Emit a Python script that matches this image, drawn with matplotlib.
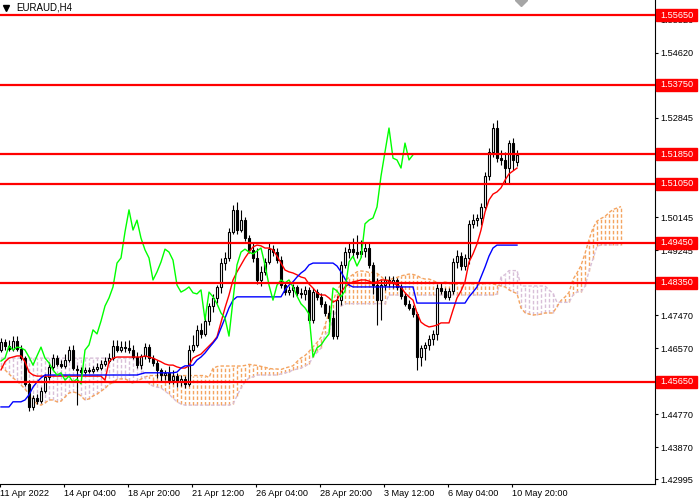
import numpy as np
import matplotlib
matplotlib.use("Agg")
import matplotlib.pyplot as plt
from matplotlib.patches import Rectangle

plt.rcParams['font.family'] = ['Liberation Sans', 'DejaVu Sans']

symbol = "EURAUD,H4"

time_labels = ["11 Apr 2022", "14 Apr 04:00", "18 Apr 20:00", "21 Apr 12:00",
               "26 Apr 04:00", "28 Apr 20:00", "3 May 12:00", "6 May 04:00",
               "10 May 20:00"]
time_label_bars = [0, 16, 32, 48, 64, 80, 96, 112, 128]

levels = [1.5565, 1.5375, 1.5185, 1.5105, 1.4945, 1.4835, 1.4565]
level_labels = ["1.55650", "1.53750", "1.51850", "1.51050", "1.49450", "1.48350", "1.45650"]

price_ticks = [1.55520, 1.54620, 1.52845, 1.51945, 1.50145,
               1.49245, 1.47470, 1.46570, 1.44770, 1.43870, 1.42995]

open_ = [
    1.4652, 1.4674, 1.4663, 1.4655, 1.4677, 1.4655, 1.4630, 1.4560, 1.4497, 1.4521,
    1.4513, 1.4540, 1.4579, 1.4606, 1.4630, 1.4614, 1.4609, 1.4625, 1.4652, 1.4600,
    1.4598, 1.4592, 1.4598, 1.4595, 1.4600, 1.4603, 1.4614, 1.4622, 1.4630, 1.4663,
    1.4652, 1.4660, 1.4658, 1.4652, 1.4633, 1.4611, 1.4636, 1.4660, 1.4630, 1.4617,
    1.4598, 1.4584, 1.4590, 1.4570, 1.4581, 1.4565, 1.4573, 1.4560, 1.4652, 1.4666,
    1.4707, 1.4696, 1.4731, 1.4772, 1.4794, 1.4824, 1.4889, 1.4903, 1.4974, 1.5034,
    1.4979, 1.5006, 1.4957, 1.4925, 1.4903, 1.4843, 1.4865, 1.4892, 1.4927, 1.4919,
    1.4897, 1.4829, 1.4810, 1.4816, 1.4824, 1.4808, 1.4805, 1.4816, 1.4734, 1.4810,
    1.4797, 1.4778, 1.4753, 1.4739, 1.4690, 1.4788, 1.4884, 1.4919, 1.4927, 1.4919,
    1.4914, 1.4922, 1.4930, 1.4884, 1.4829, 1.4788, 1.4829, 1.4843, 1.4835, 1.4843,
    1.4824, 1.4799, 1.4778, 1.4767, 1.4750, 1.4633, 1.4658, 1.4666, 1.4682, 1.4696,
    1.4821, 1.4813, 1.4797, 1.4813, 1.4892, 1.4908, 1.4881, 1.4903, 1.4996, 1.5006,
    1.5012, 1.5042, 1.5126, 1.5192, 1.5257, 1.5175, 1.5170, 1.5148, 1.5216, 1.5164,
]
high = [
    1.4685, 1.4682, 1.4679, 1.4690, 1.4690, 1.4666, 1.4636, 1.4570, 1.4530, 1.4532,
    1.4551, 1.4587, 1.4620, 1.4641, 1.4639, 1.4625, 1.4641, 1.4663, 1.4666, 1.4611,
    1.4606, 1.4606, 1.4606, 1.4609, 1.4617, 1.4625, 1.4633, 1.4644, 1.4679, 1.4679,
    1.4677, 1.4677, 1.4679, 1.4666, 1.4647, 1.4641, 1.4671, 1.4668, 1.4639, 1.4625,
    1.4603, 1.4598, 1.4609, 1.4598, 1.4590, 1.4584, 1.4581, 1.4666, 1.4693, 1.4720,
    1.4726, 1.4742, 1.4780, 1.4805, 1.4829, 1.4903, 1.4919, 1.4985, 1.5047, 1.5055,
    1.5034, 1.5015, 1.4966, 1.4944, 1.4930, 1.4881, 1.4903, 1.4944, 1.4938, 1.4930,
    1.4908, 1.4838, 1.4827, 1.4832, 1.4829, 1.4821, 1.4827, 1.4824, 1.4821, 1.4818,
    1.4808, 1.4786, 1.4775, 1.4761, 1.4799, 1.4895, 1.4933, 1.4944, 1.4957, 1.4966,
    1.4952, 1.4944, 1.4946, 1.4892, 1.4848, 1.4843, 1.4854, 1.4854, 1.4854, 1.4848,
    1.4832, 1.4808, 1.4788, 1.4775, 1.4756, 1.4666, 1.4674, 1.4693, 1.4707, 1.4832,
    1.4838, 1.4821, 1.4821, 1.4903, 1.4925, 1.4919, 1.4914, 1.5006, 1.5023, 1.5023,
    1.5053, 1.5137, 1.5203, 1.5271, 1.5279, 1.5197, 1.5192, 1.5224, 1.5230, 1.5197,
]
low = [
    1.4647, 1.4652, 1.4649, 1.4649, 1.4649, 1.4625, 1.4554, 1.4486, 1.4489, 1.4505,
    1.4508, 1.4535, 1.4570, 1.4600, 1.4609, 1.4603, 1.4603, 1.4620, 1.4598, 1.4502,
    1.4584, 1.4587, 1.4590, 1.4590, 1.4595, 1.4598, 1.4609, 1.4617, 1.4625, 1.4647,
    1.4647, 1.4647, 1.4644, 1.4628, 1.4603, 1.4600, 1.4628, 1.4620, 1.4609, 1.4576,
    1.4568, 1.4570, 1.4560, 1.4560, 1.4551, 1.4554, 1.4549, 1.4554, 1.4647, 1.4660,
    1.4685, 1.4690, 1.4720, 1.4756, 1.4780, 1.4808, 1.4870, 1.4895, 1.4968, 1.4968,
    1.4974, 1.4949, 1.4917, 1.4892, 1.4832, 1.4827, 1.4857, 1.4886, 1.4908, 1.4889,
    1.4821, 1.4802, 1.4802, 1.4797, 1.4799, 1.4794, 1.4788, 1.4726, 1.4726, 1.4788,
    1.4769, 1.4745, 1.4728, 1.4682, 1.4682, 1.4775, 1.4876, 1.4903, 1.4903, 1.4903,
    1.4906, 1.4906, 1.4876, 1.4805, 1.4720, 1.4734, 1.4816, 1.4824, 1.4821, 1.4816,
    1.4791, 1.4772, 1.4761, 1.4742, 1.4598, 1.4609, 1.4625, 1.4652, 1.4666, 1.4679,
    1.4805, 1.4791, 1.4788, 1.4805, 1.4876, 1.4870, 1.4870, 1.4886, 1.4985, 1.4990,
    1.4993, 1.5034, 1.5115, 1.5178, 1.5164, 1.5156, 1.5107, 1.5107, 1.5143, 1.5154,
]
close = [
    1.4674, 1.4663, 1.4655, 1.4677, 1.4655, 1.4630, 1.4560, 1.4497, 1.4521, 1.4513,
    1.4540, 1.4579, 1.4606, 1.4630, 1.4614, 1.4609, 1.4625, 1.4652, 1.4603, 1.4598,
    1.4592, 1.4598, 1.4595, 1.4600, 1.4606, 1.4614, 1.4622, 1.4630, 1.4663, 1.4652,
    1.4660, 1.4658, 1.4652, 1.4633, 1.4611, 1.4636, 1.4660, 1.4630, 1.4617, 1.4598,
    1.4584, 1.4590, 1.4570, 1.4581, 1.4565, 1.4573, 1.4560, 1.4652, 1.4666, 1.4707,
    1.4696, 1.4731, 1.4772, 1.4794, 1.4824, 1.4889, 1.4903, 1.4974, 1.5034, 1.4979,
    1.5006, 1.4957, 1.4925, 1.4903, 1.4843, 1.4865, 1.4892, 1.4927, 1.4919, 1.4897,
    1.4829, 1.4810, 1.4816, 1.4824, 1.4808, 1.4805, 1.4816, 1.4734, 1.4810, 1.4797,
    1.4778, 1.4753, 1.4739, 1.4690, 1.4788, 1.4884, 1.4919, 1.4927, 1.4919, 1.4914,
    1.4922, 1.4930, 1.4884, 1.4829, 1.4788, 1.4829, 1.4843, 1.4835, 1.4843, 1.4824,
    1.4799, 1.4778, 1.4767, 1.4750, 1.4633, 1.4658, 1.4666, 1.4682, 1.4696, 1.4821,
    1.4813, 1.4797, 1.4813, 1.4892, 1.4908, 1.4881, 1.4903, 1.4996, 1.5006, 1.5012,
    1.5042, 1.5126, 1.5192, 1.5257, 1.5175, 1.5170, 1.5148, 1.5216, 1.5170, 1.5184,
]

tenkan = ([1.4598, 1.4620, 1.4630, 1.4633, 1.4636, 1.4636, 1.4620, 1.4592, 1.4584]
          + [1.4581] * 17
          + [1.4570, 1.4620, 1.4630]
          + [1.4633] * 7
          + [1.4636, 1.4633, 1.4630, 1.4625, 1.4620, 1.4614, 1.4611, 1.4611, 1.4606, 1.4603, 1.4603, 1.4609,
             1.4630, 1.4636, 1.4641, 1.4652, 1.4663, 1.4674, 1.4688, 1.4728, 1.4767, 1.4802, 1.4843, 1.4865,
             1.4884, 1.4903, 1.4919, 1.4933, 1.4938, 1.4936, 1.4930, 1.4930, 1.4925, 1.4908, 1.4889, 1.4870,
             1.4865, 1.4862, 1.4857, 1.4851, 1.4848, 1.4832, 1.4821, 1.4808, 1.4802, 1.4802, 1.4794, 1.4783,
             1.4788, 1.4810, 1.4824, 1.4832, 1.4838, 1.4840, 1.4843, 1.4843, 1.4840, 1.4835, 1.4838, 1.4843,
             1.4843, 1.4840, 1.4835, 1.4829, 1.4824, 1.4808, 1.4797, 1.4788, 1.4753, 1.4728, 1.4720, 1.4715,
             1.4717, 1.4720, 1.4726, 1.4726, 1.4726, 1.4761, 1.4794, 1.4813, 1.4838, 1.4892, 1.4914, 1.4941,
             1.4979, 1.5028, 1.5061, 1.5077, 1.5083, 1.5094, 1.5115, 1.5132, 1.5140, 1.5148])

kijun = ([1.4497] * 3 + [1.4511] * 3 + [1.4516, 1.4530, 1.4551, 1.4565, 1.4576]
         + [1.4584] * 24
         + [1.4587] + [1.4590] * 8 + [1.4592, 1.4603, 1.4609, 1.4609, 1.4611]
         + [1.4625, 1.4633, 1.4644, 1.4658, 1.4671, 1.4685, 1.4712, 1.4739, 1.4767, 1.4788]
         + [1.4797] * 12
         + [1.4816, 1.4829, 1.4838, 1.4851, 1.4862, 1.4870, 1.4884]
         + [1.4889] * 6
         + [1.4881, 1.4865, 1.4846, 1.4829]
         + [1.4824] * 16
         + [1.4780] * 13
         + [1.4797, 1.4810, 1.4824, 1.4851, 1.4878, 1.4908, 1.4930]
         + [1.4938] * 6)

# Senkou spans already on the chart before the first visible bar's own data
senkou_a_hist = [1.4609, 1.4598, 1.4587, 1.4576, 1.4568, 1.4557, 1.4546, 1.4532, 1.4519, 1.4505,
                 1.4502, 1.4508, 1.4516, 1.4516, 1.4511, 1.4513, 1.4524, 1.4535, 1.4538, 1.4535,
                 1.4527, 1.4516, 1.4519, 1.4527, 1.4532, 1.4540]
senkou_b_hist = ([1.4630] * 35
                 + [1.4611, 1.4576, 1.4560, 1.4554, 1.4551, 1.4549, 1.4540, 1.4532, 1.4521, 1.4511, 1.4505]
                 + [1.4502] * 12
                 + [1.4505, 1.4527, 1.4549, 1.4565, 1.4576, 1.4579]
                 + [1.4584] * 6
                 + [1.4587, 1.4590, 1.4592, 1.4598, 1.4600, 1.4603, 1.4609])

SHIFT = 26
SPAN_B_LEN = 52

o = np.array(open_)
h = np.array(high)
l = np.array(low)
c = np.array(close)
tk = np.array(tenkan)
kj = np.array(kijun)
n = len(c)
idx = np.arange(n)

span_a = np.concatenate([senkou_a_hist, (tk + kj) / 2.0])
span_b = list(senkou_b_hist)
for k in range(len(senkou_b_hist), n + SHIFT):
    a0 = k - SHIFT - (SPAN_B_LEN - 1)
    a1 = k - SHIFT + 1
    span_b.append((h[a0:a1].max() + l[a0:a1].min()) / 2.0)
span_b = np.array(span_b)
cloud_x = np.arange(n + SHIFT)

fig = plt.figure(figsize=(7, 5), dpi=100)
ax = fig.add_axes([0, 16 / 500, 655 / 700, 484 / 500])
ax.set_xlim(-0.25, 163.5)
ax.set_ylim(1.42870, 1.56059)

SANDY = '#F4A460'
THISTLE = '#D8BFD8'
dash = (0, (2.5, 1.5))

up = span_a >= span_b
ax.vlines(cloud_x[up], span_b[up], span_a[up], colors=SANDY, linestyles=dash,
          lw=1.0, zorder=1)
ax.vlines(cloud_x[~up], span_a[~up], span_b[~up], colors=THISTLE, linestyles=dash,
          lw=1.0, zorder=1)
ax.plot(cloud_x, span_a, color=SANDY, ls=dash, lw=1.0, zorder=2)
ax.plot(cloud_x, span_b, color=THISTLE, ls=dash, lw=1.0, zorder=2)

# candles
bull = c >= o
body_lo = np.minimum(o, c)
body_h = np.abs(c - o)
ax.vlines(idx, l, h, colors='black', lw=0.8, zorder=3)
ax.bar(idx, body_h, bottom=body_lo, width=0.5,
       color=np.where(bull, 'white', 'black'), edgecolor='black', linewidth=0.8, zorder=4)

# ichimoku lines
ax.plot(idx, tk, color='red', lw=1.0, zorder=5)
ax.plot(idx, kj, color='blue', lw=1.0, zorder=5)
ax.plot(idx[:n - SHIFT], c[SHIFT:], color='#00FF00', lw=1.0, zorder=5)

# horizontal levels
px = (1.56059 - 1.42870) / 484.0
ytr = ax.get_yaxis_transform()
for lv, lab in zip(levels, level_labels):
    ax.axhline(lv, color='red', lw=1.6, zorder=8)
    ax.add_patch(Rectangle((656 / 655, lv - 6 * px), 41 / 655, 12 * px, transform=ytr,
                           facecolor='red', edgecolor='red', clip_on=False, zorder=10))
    ax.text(660 / 655, lv, lab, transform=ytr, color='white', fontsize=6.6,
            va='center', ha='left', zorder=11, clip_on=False)

# axes
ax.yaxis.tick_right()
ax.set_yticks(price_ticks)
ax.set_yticklabels([f"{t:.5f}" for t in price_ticks])
ax.tick_params(axis='y', length=2.5, pad=1.2, labelsize=6.6, width=0.8)
ax.set_xticks([b - 0.25 for b in time_label_bars])
ax.set_xticklabels(time_labels)
for t in ax.get_xticklabels():
    t.set_ha('left')
ax.tick_params(axis='x', length=2.5, pad=1.0, labelsize=6.6, width=0.8)
for s in ['left', 'top']:
    ax.spines[s].set_visible(False)
for s in ['right', 'bottom']:
    ax.spines[s].set_linewidth(0.8)

ax.text(16 / 655, 1 - 8 / 484, symbol, transform=ax.transAxes, fontsize=7,
        va='center', ha='left', zorder=12)
ax.plot([6 / 655], [1 - 8 / 484], marker='v', color='black', markersize=4,
        transform=ax.transAxes, zorder=12)
ax.plot([521 / 655], [1.0], marker='D', markersize=6, color='#A6A6A6',
        transform=ax.transAxes, clip_on=False, zorder=12)

fig.savefig('out.png', dpi=100)
